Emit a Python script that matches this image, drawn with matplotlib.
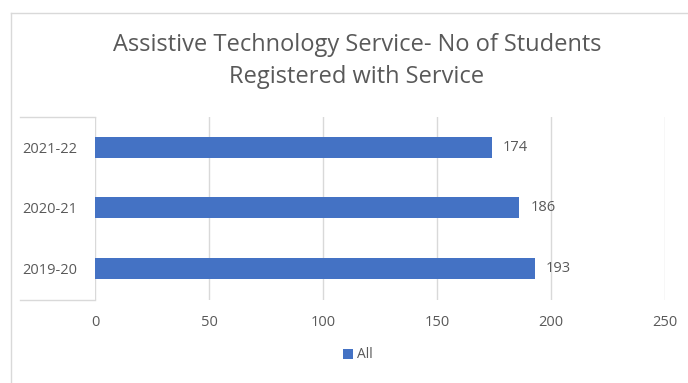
import matplotlib.pyplot as plt
from matplotlib.lines import Line2D

# student counts per academic year
years = ["2019-20", "2020-21", "2021-22"]
students = [193, 186, 174]
x_ticks = [0, 50, 100, 150, 200, 250]

bar_col = "#4472C4"
txt_col = "#595959"
grid_col = "#D9D9D9"

plt.rcParams['font.family'] = ['Open Sans', 'DejaVu Sans']

fig = plt.figure(figsize=(6.88, 3.83), dpi=100)
ax = fig.add_axes([95/688, 83/383, 570/688, 183/383])

pos = range(len(years))
bars = ax.barh(pos, students, height=0.35, color=bar_col, label="All", zorder=3)

for p, v in zip(pos, students):
    ax.annotate(str(v), (v, p), xytext=(8, 0), textcoords="offset points",
                va="center", ha="left", fontsize=10.5, color=txt_col)

ax.set_xlim(0, 250)
ax.set_ylim(-0.52, 2.5)
ax.set_xticks(x_ticks)
ax.set_yticks(list(pos))
ax.set_yticklabels(years)
ax.tick_params(axis="both", length=0, labelsize=10.5, colors=txt_col)
ax.tick_params(axis="x", pad=11)
ax.tick_params(axis="y", pad=13)
ax.grid(axis="x", color=grid_col, linewidth=1, zorder=0)
for s in ax.spines.values():
    s.set_visible(False)

# frame lines around the category labels and around the chart
W, H = 688, 383
fig.add_artist(Line2D([20/W, 95/W], [(H-117)/H]*2, color=grid_col, lw=1))
fig.add_artist(Line2D([20/W, 95/W], [(H-300)/H]*2, color=grid_col, lw=1))
fig.add_artist(Line2D([10.5/W]*2, [0, (H-12.5)/H], color=grid_col, lw=1))
fig.add_artist(Line2D([10.5/W, 1], [(H-12.5)/H]*2, color=grid_col, lw=1))

fig.text(357/W, 1 - 61/H, "Assistive Technology Service- No of Students\nRegistered with Service",
         ha="center", va="center", fontsize=17, color=txt_col, linespacing=1.42)

fig.legend(handles=[bars], labels=["All"], loc="center", bbox_to_anchor=(358/W, 1 - 355/H),
           frameon=False, fontsize=10, handlelength=0.7, handleheight=0.7, handletextpad=0.3,
           labelcolor=txt_col)

fig.savefig("out.png", dpi=100)
